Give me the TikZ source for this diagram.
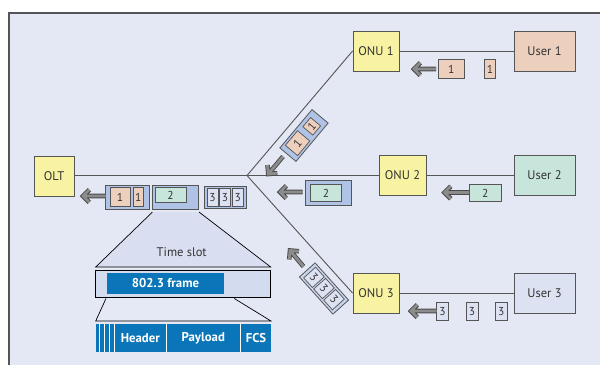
\documentclass[tikz,border=0pt]{standalone}
\usepackage{fontspec}
\setmainfont{PT Sans}
\usetikzlibrary{calc}
\definecolor{bg}{HTML}{E4E8F4}
\definecolor{framec}{HTML}{555555}
\definecolor{linec}{HTML}{555555}
\definecolor{txt}{HTML}{333333}
\definecolor{yel}{HTML}{F7F3A2}
\definecolor{peach}{HTML}{EDCFBE}
\definecolor{mint}{HTML}{C7E5DB}
\definecolor{lav}{HTML}{DDE2F3}
\definecolor{pblue}{HTML}{AEC3E6}
\definecolor{trap}{HTML}{D9DFF1}
\definecolor{rowc}{HTML}{D3DBEE}
\definecolor{fblue}{HTML}{0A76B9}
\definecolor{arrin}{HTML}{8C8C8C}
\definecolor{arrout}{HTML}{4A4A4A}
\newcommand\pktarrow[2]{\draw[fatarr] ($(#1)!9pt!45:(#2)$) -- (#1) -- ($(#1)!9pt!-45:(#2)$) (#1) -- (#2);}
\begin{document}
\begin{tikzpicture}[x=1pt,y=-1pt,
  box/.style={draw=linec, line width=0.9pt, inner sep=0pt, text=txt,
    font=\fontsize{12.5}{14}\selectfont},
  pkt/.style={draw=linec, line width=0.7pt, inner sep=0pt, text=txt,
    font=\fontsize{11.5}{13}\selectfont},
  outerpkt/.style={draw=linec, line width=0.8pt, fill=pblue, inner sep=0pt},
  conn/.style={draw=linec, line width=0.9pt},
  fatarr/.style={draw=arrin, line width=2.8pt, line join=miter, line cap=butt,
    preaction={draw=arrout, line width=4.6pt, line join=miter, line cap=butt}},
  wt/.style={text=white, font=\bfseries\fontsize{12.8}{14}\selectfont, inner sep=0pt}]
\useasboundingbox (0,0) rectangle (600,365);
\fill[bg] (9,13) rectangle (600,365);
\draw[framec, line width=1.2pt] (9,365) -- (9,13) -- (600,13);

% main nodes
\node[box, fill=yel, minimum width=40, minimum height=40] (olt) at (54,176) {OLT};
\node[box, fill=yel, minimum width=46, minimum height=40] (onu1) at (376,51) {ONU 1};
\node[box, fill=yel, minimum width=47, minimum height=40] (onu2) at (402.5,175) {ONU 2};
\node[box, fill=yel, minimum width=46, minimum height=40] (onu3) at (376,293) {ONU 3};
\node[box, fill=peach, minimum width=61, minimum height=40] (user1) at (544.5,51) {User 1};
\node[box, fill=mint, minimum width=61, minimum height=40] (user2) at (544.5,175) {User 2};
\node[box, fill=lav, minimum width=61, minimum height=40] (user3) at (544.5,293) {User 3};
\coordinate (j) at (247,175.5);

% connectors
\draw[conn] (olt.east |- j) -- (j) -- (onu2.west |- j);
\draw[conn] (j) -- (onu1.west);
\draw[conn] (j) -- (onu3.west);
\draw[conn] (onu1) -- (user1);
\draw[conn] (onu2) -- (user2);
\draw[conn] (onu3) -- (user3);

% packets near users
\node[pkt, fill=peach, minimum width=25.7, minimum height=19.4] (u1a) at (451.2,69) {1};
\node[pkt, fill=peach, minimum width=11.4, minimum height=19.4] (u1b) at (490,69) {1};
\pktarrow{414,69}{436,69}
\node[pkt, fill=mint, minimum width=31.7, minimum height=17.4] (u2a) at (485.2,193) {2};
\pktarrow{444.5,192.5}{469,192.5}
\node[pkt, fill=lav, minimum width=11.7, minimum height=18] (u3a) at (442.5,311.3) {3};
\node[pkt, fill=lav, minimum width=11.7, minimum height=18] (u3b) at (472,311.3) {3};
\node[pkt, fill=lav, minimum width=11.7, minimum height=18] (u3c) at (501.3,311.3) {3};
\pktarrow{411,311}{436.5,311}

% packet ONU2 -> junction
\node[outerpkt, minimum width=45.5, minimum height=25.7] (o2p) at (328.3,192.8) {};
\node[pkt, fill=mint, minimum width=31.4, minimum height=17.4] (o2pi) at (326,193) {2};
\pktarrow{280,192}{302.5,192}

% diagonal packet ONU1
\begin{scope}[shift={(304,135.5)}, rotate=50, transform shape]
\node[outerpkt, minimum width=50, minimum height=21] (o1p) at (0,0) {};
\node[pkt, fill=peach, minimum width=19, minimum height=16] (o1pa) at (-10,0) {1};
\node[pkt, fill=peach, minimum width=12, minimum height=13] (o1pb) at (12,0) {1};
\end{scope}
\pktarrow{268.3,174}{283,156.5}

% diagonal packet ONU3
\begin{scope}[shift={(324,288.5)}, rotate=-48, transform shape]
\node[outerpkt, fill=pblue!70!white, minimum width=50, minimum height=21] (o3p) at (0,0) {};
\node[pkt, fill=lav, minimum width=13, minimum height=16] (o3pa) at (-15,0) {3};
\node[pkt, fill=lav, minimum width=13, minimum height=16] (o3pb) at (0,0) {3};
\node[pkt, fill=lav, minimum width=13, minimum height=16] (o3pc) at (15,0) {3};
\end{scope}
\pktarrow{290,250.5}{303.5,266.5}

% OLT sequence
\node[outerpkt, minimum width=44, minimum height=24] (s1) at (127.5,197) {};
\node[pkt, fill=peach, minimum width=20, minimum height=19] (s1a) at (120,197.2) {1};
\node[pkt, fill=peach, minimum width=10, minimum height=19] (s1b) at (138.3,197.2) {1};
\node[outerpkt, minimum width=46, minimum height=24] (s2) at (175.7,197) {};
\node[pkt, fill=mint, minimum width=31, minimum height=15] (s2a) at (170.5,195.3) {2};
\node[outerpkt, minimum width=42, minimum height=22.5] (s3) at (225,197.3) {};
\node[pkt, fill=lav, minimum width=11, minimum height=18] (s3a) at (212.5,197.3) {3};
\node[pkt, fill=lav, minimum width=10.5, minimum height=18] (s3b) at (225,197.3) {3};
\node[pkt, fill=lav, minimum width=11, minimum height=18] (s3c) at (237.8,197.3) {3};
\pktarrow{83,196}{105.5,196}

% time slot zoom
\fill[trap] (152.5,212) -- (199,212) -- (270.7,267) -- (95.7,267) -- cycle;
\draw[black, line width=0.7pt] (152.5,212) -- (95.7,267) -- (270.7,267) -- (199,212);
\node[text=txt, font=\fontsize{12.5}{14}\selectfont] (ts) at (181.7,252) {Time slot};
\node[draw=black, line width=0.9pt, fill=rowc, minimum width=175, minimum height=27, inner sep=0pt] (row) at (183.2,283.6) {};
\node[fill=fblue, minimum width=117.6, minimum height=21.3, inner sep=0pt] (fr) at (165.5,283.3) {};
\node[wt] at (fr) {802.3 frame};
\fill[trap!70!white] (106,298.5) -- (234.3,298.5) -- (271,321) -- (95.7,321) -- cycle;
\draw[black, line width=0.7pt] (106,298.5) -- (95.7,321) -- (271,321) -- (234.3,298.5);
\node[fill=fblue, minimum width=175.3, minimum height=27.5, inner sep=0pt] (fields) at (183.35,337.75) {};
\foreach \xx in {99.5,104.6,109.6,114.4,166.2,240.4}
  \draw[white, line width=1.3pt] (\xx,324) -- (\xx,351.5);
\node[wt] (hd) at (140.3,338) {Header};
\node[wt] (pl) at (203.3,338) {Payload};
\node[wt] (fcs) at (256,338) {FCS};
\end{tikzpicture}
\end{document}
